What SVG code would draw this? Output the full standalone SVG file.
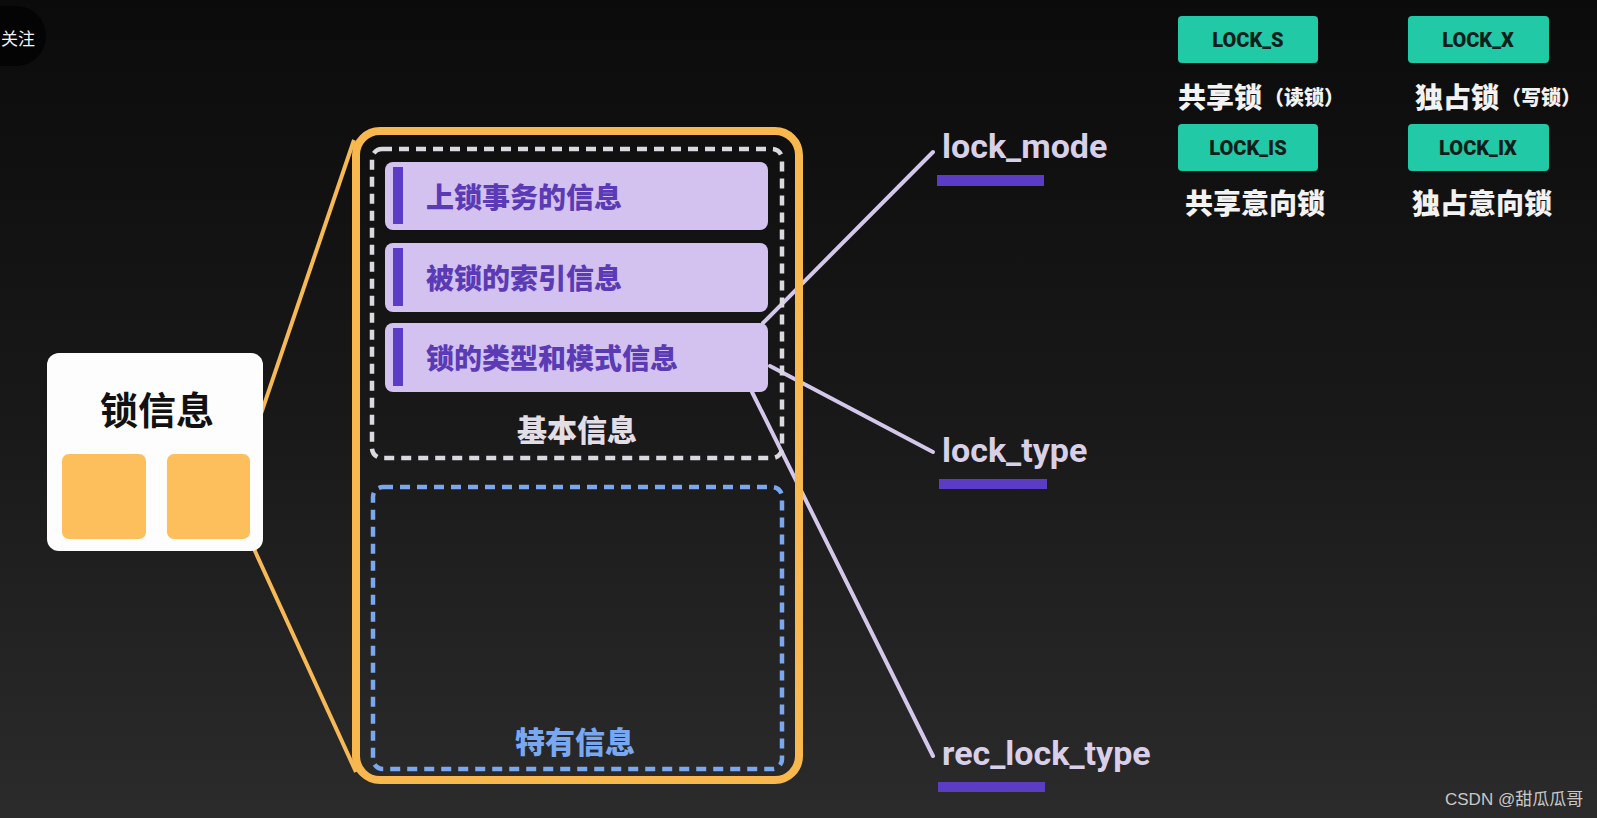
<svg xmlns="http://www.w3.org/2000/svg" width="1597" height="818" viewBox="0 0 1597 818">
<defs>
<linearGradient id="bg" x1="0" y1="0" x2="0" y2="1">
<stop offset="0" stop-color="#0b0b0b"/>
<stop offset="0.5" stop-color="#181818"/>
<stop offset="1" stop-color="#2b2b2b"/>
</linearGradient>
<style>
.cjk{font-family:"Noto Sans CJK SC","Noto Sans",sans-serif;font-weight:900}
.lat{font-family:Roboto,"Liberation Sans",sans-serif;font-weight:700}
.item{fill:#d3c2f0}
.bar{fill:#5b3cc4}
.itxt{fill:#5a3bb5;font-size:28px}
.teal{fill:#21c9a6}
.ltxt{fill:#0d1f1b;font-size:20px;text-anchor:middle;font-weight:900}
.wtxt{fill:#f2f2f2;font-size:28px}
.conn{stroke:#d4c8ea;stroke-width:4;fill:none;stroke-linecap:round}
.oconn{stroke:#f7b955;stroke-width:4;fill:none}
.field{fill:#d8d0e8;font-size:34px}
.ul{fill:#5b3cc4}
</style>
</defs>
<rect width="1597" height="818" fill="url(#bg)"/>

<g id="follow">
<rect x="-40" y="6" width="86" height="60" rx="30" fill="#040404"/>
<text x="1" y="37" font-family="'Noto Sans CJK SC',sans-serif" font-size="17" fill="#f5f5f5" dominant-baseline="central">关注</text>
</g>

<g id="connectors">
<line class="oconn" x1="247" y1="455" x2="354" y2="140"/>
<line class="oconn" x1="249" y1="538" x2="356" y2="772"/>
<line class="conn" x1="763" y1="323" x2="933" y2="152"/>
<line class="conn" x1="770" y1="366" x2="933" y2="452"/>
<line class="conn" x1="752" y1="392" x2="933" y2="756"/>
</g>

<g id="lock-info">
<rect x="47" y="353" width="216" height="198" rx="12" fill="#fdfdfd"/>
<text x="157" y="407" font-family="'Noto Sans CJK SC',sans-serif" font-size="38" font-weight="700" fill="#111" text-anchor="middle" dominant-baseline="central">锁信息</text>
<rect x="62" y="454" width="84" height="85" rx="7" fill="#fdbe5c"/>
<rect x="167" y="454" width="83" height="85" rx="7" fill="#fdbe5c"/>
</g>

<g id="lock-struct">
<rect x="356" y="131" width="443" height="649" rx="24" fill="none" stroke="#f8b84e" stroke-width="8"/>
</g>

<g id="basic-info">
<rect x="372" y="149" width="410" height="309" rx="10" fill="none" stroke="#dcd8e0" stroke-width="4.5" stroke-dasharray="10 7"/>
<text class="cjk" x="577" y="428" font-size="30" fill="#e2dee6" text-anchor="middle" dominant-baseline="central">基本信息</text>
</g>

<g id="item-trx">
<rect class="item" x="385" y="162" width="383" height="68" rx="8"/>
<rect class="bar" x="393" y="167" width="10" height="57"/>
<text class="cjk itxt" x="426" y="196" dominant-baseline="central">上锁事务的信息</text>
</g>
<g id="item-index">
<rect class="item" x="385" y="243" width="383" height="69" rx="8"/>
<rect class="bar" x="393" y="248" width="10" height="58"/>
<text class="cjk itxt" x="426" y="277" dominant-baseline="central">被锁的索引信息</text>
</g>
<g id="item-type">
<rect class="item" x="385" y="323" width="383" height="69" rx="8"/>
<rect class="bar" x="393" y="328" width="10" height="58"/>
<text class="cjk itxt" x="426" y="357" dominant-baseline="central">锁的类型和模式信息</text>
</g>

<g id="specific-info">
<rect x="373" y="487" width="409" height="282" rx="10" fill="none" stroke="#7aa8f0" stroke-width="4.5" stroke-dasharray="10 7"/>
<text class="cjk" x="575" y="740" font-size="30" fill="#7aa8f0" text-anchor="middle" dominant-baseline="central">特有信息</text>
</g>

<g id="lock-mode">
<text class="lat field" x="942" y="158">lock_mode</text>
<rect class="ul" x="937" y="175" width="107" height="11"/>
</g>
<g id="lock-type">
<text class="lat field" x="942" y="462">lock_type</text>
<rect class="ul" x="939" y="479" width="108" height="10"/>
</g>
<g id="rec-lock-type">
<text class="lat field" x="942" y="765">rec_lock_type</text>
<rect class="ul" x="938" y="782" width="107" height="10"/>
</g>

<g id="lock-s">
<rect class="teal" x="1178" y="16" width="140" height="47" rx="4"/>
<text class="lat ltxt" x="1248" y="47">LOCK_S</text>
<text class="cjk wtxt" x="1178" y="96" dominant-baseline="central">共享锁<tspan font-size="20" dx="2">（读锁）</tspan></text>
</g>
<g id="lock-x">
<rect class="teal" x="1408" y="16" width="141" height="47" rx="4"/>
<text class="lat ltxt" x="1478" y="47">LOCK_X</text>
<text class="cjk wtxt" x="1415" y="96" dominant-baseline="central">独占锁<tspan font-size="20" dx="2">（写锁）</tspan></text>
</g>
<g id="lock-is">
<rect class="teal" x="1178" y="124" width="140" height="47" rx="4"/>
<text class="lat ltxt" x="1248" y="155">LOCK_IS</text>
<text class="cjk wtxt" x="1185" y="202" dominant-baseline="central">共享意向锁</text>
</g>
<g id="lock-ix">
<rect class="teal" x="1408" y="124" width="141" height="47" rx="4"/>
<text class="lat ltxt" x="1478" y="155">LOCK_IX</text>
<text class="cjk wtxt" x="1412" y="202" dominant-baseline="central">独占意向锁</text>
</g>

<g id="watermark">
<text x="1445" y="805" font-family="'Liberation Sans','Noto Sans CJK SC',sans-serif" font-size="17" fill="#c8c8c8">CSDN @甜瓜瓜哥</text>
</g>
</svg>
